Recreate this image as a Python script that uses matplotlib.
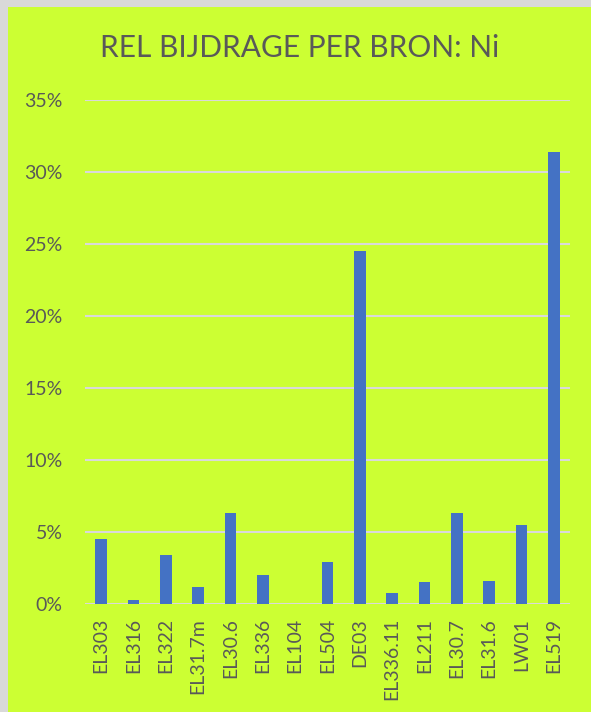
import matplotlib.pyplot as plt
from matplotlib.patches import Rectangle
from matplotlib.ticker import FuncFormatter

# Data
bronnen = ['EL303', 'EL316', 'EL322', 'EL31.7m', 'EL30.6', 'EL336', 'EL104',
           'EL504', 'DE03', 'EL336.11', 'EL211', 'EL30.7', 'EL31.6', 'LW01', 'EL519']
bijdrage = [4.5, 0.25, 3.4, 1.15, 6.3, 2.0, 0.0,
            2.9, 24.5, 0.75, 1.5, 6.3, 1.6, 5.5, 31.4]
y_ticks = [0, 5, 10, 15, 20, 25, 30, 35]

lime = '#CCFF33'
text_col = '#595959'
plt.rcParams['font.family'] = ['Lato', 'DejaVu Sans']

fig = plt.figure(figsize=(5.91, 7.12), dpi=100)
fig.patch.set_facecolor('#D9D9D9')
# lime chart area with a thin gray frame on the left and top
fig.patches.append(Rectangle((8 / 591, 0), 1, 1 - 7 / 712, transform=fig.transFigure,
                             facecolor=lime, edgecolor='none', zorder=-10))

ax = fig.add_axes([85 / 591, 1 - 604 / 712, (570 - 85) / 591, (604 - 100) / 712])
ax.set_facecolor(lime)

x = range(len(bronnen))
ax.bar(x, bijdrage, width=0.36, color='#4472C4', zorder=3)

ax.set_ylim(0, 35)
ax.set_xlim(-0.5, len(bronnen) - 0.5)
ax.set_yticks(y_ticks)
ax.yaxis.set_major_formatter(FuncFormatter(lambda v, p: f'{v:.0f}%'))
ax.set_xticks(list(x))
ax.set_xticklabels(bronnen, rotation=90)
ax.grid(axis='y', color='#D9D9D9', linewidth=1.5, zorder=0)
ax.tick_params(axis='both', length=0, labelsize=14, colors=text_col)
ax.tick_params(axis='y', pad=16)
ax.tick_params(axis='x', pad=10)
for s in ax.spines.values():
    s.set_visible(False)

fig.text(300 / 591, 1 - 48 / 712, 'REL BIJDRAGE PER BRON: Ni', ha='center', va='center',
         fontsize=21.5, color=text_col)

fig.savefig('out.png', dpi=100, facecolor=fig.get_facecolor())
